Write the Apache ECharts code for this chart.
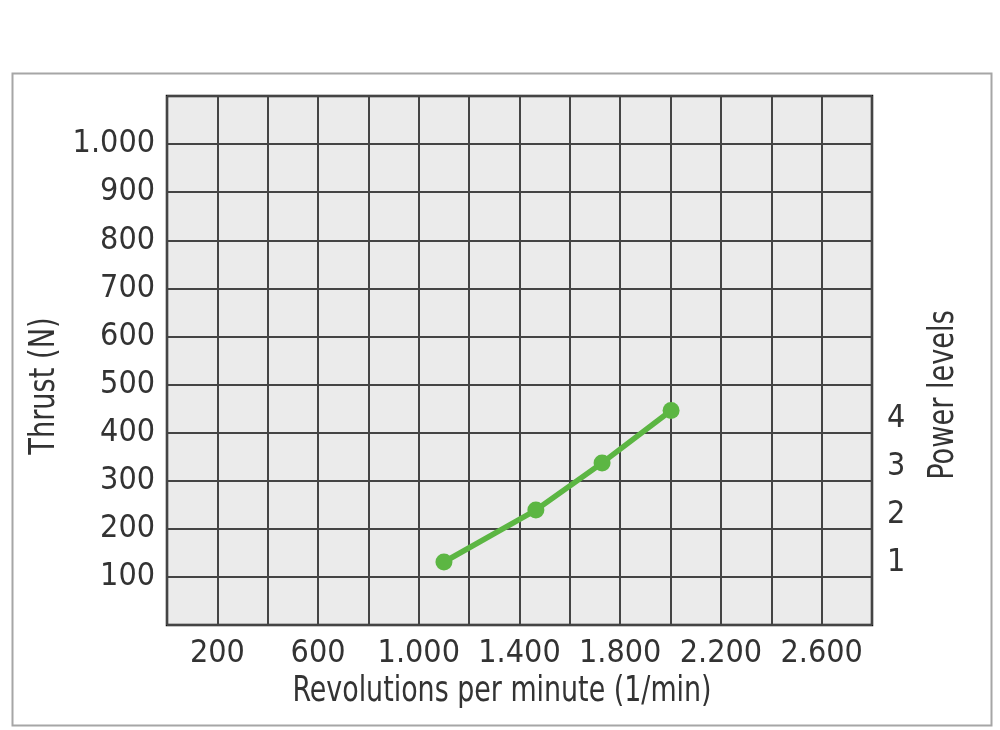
<!DOCTYPE html>
<html>
<head>
<meta charset="utf-8">
<script src="https://cdn.jsdelivr.net/npm/echarts@6/dist/echarts.min.js"></script>
<style>
html,body{margin:0;padding:0;background:#fff;}
#chart{width:1000px;height:730px;}
</style>
</head>
<body>
<div id="chart"></div>
<script>
// Data
const rpm = [1100, 1465, 1728, 2002];
const thrust = [131, 239, 337, 446];
const xTickLabels = [200, 600, 1000, 1400, 1800, 2200, 2600];
const yTickLabels = [100, 200, 300, 400, 500, 600, 700, 800, 900, 1000];
const powerLevels = [1, 2, 3, 4];

const FONT = '"Liberation Sans Narrow", "DejaVu Sans Condensed", "Arial Narrow", sans-serif';
const TXT = '#333333';
function fmt(v){
  const s = String(Math.round(v));
  return s.replace(/\B(?=(\d{3})+(?!\d))/g, '.');
}

const chart = echarts.init(document.getElementById('chart'));
chart.setOption({
  animation: false,
  backgroundColor: '#ffffff',
  grid: {
    left: 167, right: 128, top: 96, bottom: 105,
    show: true, backgroundColor: '#ebebeb', borderColor: '#111111', borderWidth: 2.5
  },
  xAxis: {
    type: 'value', min: 0, max: 2800, interval: 200,
    axisLine: {show: false},
    axisTick: {show: false},
    splitLine: {show: true, lineStyle: {color: '#444444', width: 2}},
    axisLabel: {
      customValues: xTickLabels, formatter: fmt, margin: 13,
      fontFamily: FONT, fontSize: 32, color: TXT
    }
  },
  yAxis: [{
    type: 'value', min: 0, max: 1100, interval: 100,
    axisLine: {show: false},
    axisTick: {show: false},
    splitLine: {show: true, lineStyle: {color: '#444444', width: 2}},
    axisLabel: {
      customValues: yTickLabels, formatter: fmt, margin: 12,
      fontFamily: FONT, fontSize: 32, color: TXT
    }
  }, {
    type: 'value', min: -0.3, max: 10.7, position: 'right',
    axisLine: {show: false},
    axisTick: {show: false},
    splitLine: {show: false},
    axisLabel: {
      customValues: powerLevels, margin: 15,
      fontFamily: FONT, fontSize: 32, color: TXT
    }
  }],
  graphic: [
    {type: 'rect', left: 10, top: 71, shape: {width: 979, height: 652},
     style: {fill: 'none', stroke: '#a6a6a6', lineWidth: 2}, z: -10},
    {type: 'text', x: 45, y: 386, rotation: Math.PI/2, scaleX: 0.84,
     style: {text: 'Thrust (N)', font: '36px ' + FONT, fill: TXT, align: 'center', verticalAlign: 'middle'}},
    {type: 'text', x: 944, y: 395, rotation: Math.PI/2, scaleX: 0.84,
     style: {text: 'Power levels', font: '36px ' + FONT, fill: TXT, align: 'center', verticalAlign: 'middle'}},
    {type: 'text', x: 502, y: 692, scaleX: 0.83,
     style: {text: 'Revolutions per minute (1/min)', font: '36px ' + FONT, fill: TXT, align: 'center', verticalAlign: 'middle'}}
  ],
  series: [{
    type: 'line',
    data: rpm.map((x, i) => [x, thrust[i]]),
    lineStyle: {color: '#5cb643', width: 5.5},
    itemStyle: {color: '#5cb643'},
    symbol: 'circle', symbolSize: 17,
    z: 5
  }]
});
</script>
</body>
</html>
